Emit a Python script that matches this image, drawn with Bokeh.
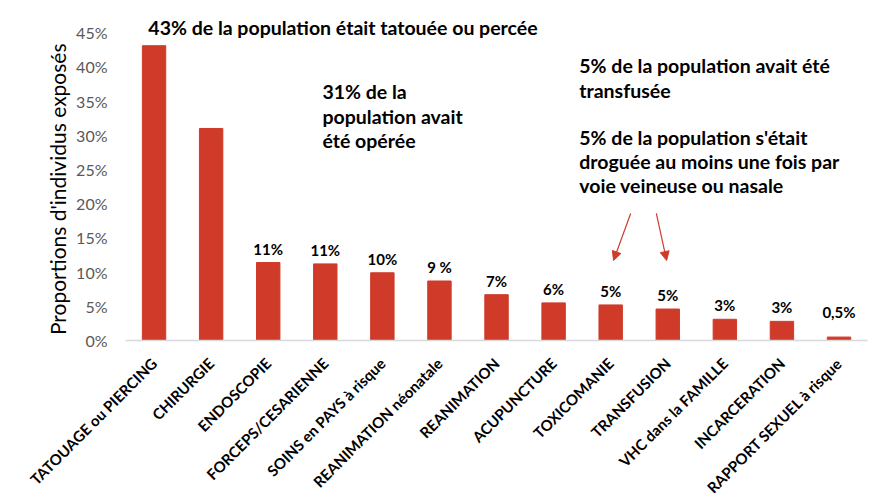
from math import pi
from bokeh.plotting import figure
from bokeh.core.properties import value
from bokeh.models import (ColumnDataSource, Range1d, NumeralTickFormatter,
                          FixedTicker, Label, LabelSet, Arrow, NormalHead)
from bokeh.embed import file_html
from bokeh.resources import INLINE

categories = ["TATOUAGE ou PIERCING", "CHIRURGIE", "ENDOSCOPIE", "FORCEPS/CESARIENNE",
              "SOINS en PAYS à risque", "REANIMATION néonatale", "REANIMATION", "ACUPUNCTURE",
              "TOXICOMANIE", "TRANSFUSION", "VHC dans la FAMILLE", "INCARCERATION",
              "RAPPORT SEXUEL à risque"]
values = [0.431, 0.310, 0.114, 0.112, 0.099, 0.087, 0.067, 0.055, 0.052, 0.046, 0.031, 0.028, 0.005]
value_labels = ["", "", "11%", "11%", "10%", "9 %", "7%", "6%", "5%", "5%", "3%", "3%", "0,5%"]
y_ticks = [0.0, 0.05, 0.10, 0.15, 0.20, 0.25, 0.30, 0.35, 0.40, 0.45]
y_title = "Proportions  d'individus exposés"

note_title = "43% de la population était tatouée ou percée"
note_surgery = ["31% de la", "population avait", "été opérée"]
note_transfusion = ["5% de la population avait été", "transfusée"]
note_drugs = ["5%  de la population s'était", "droguée au moins une fois par",
              "voie veineuse ou nasale"]

FONT = "Lato"
BAR = "#CF3B28"

n = len(categories)
xpos = [i + 0.5 for i in range(n)]
# small values get their label lifted a little more, as in the source chart
lab_offsets = [16 if v < 0.01 else 5 for v in values]

src = ColumnDataSource(dict(x=xpos, val=values, lab=value_labels, off=lab_offsets))

# frame spans the whole page; the axes sit at fixed data locations inside it
p = figure(width=882, height=493,
           x_range=Range1d(-2.19, 13.262), y_range=Range1d(-0.2237, 0.4971),
           output_backend="svg", toolbar_location=None,
           min_border_left=0, min_border_right=0, min_border_top=0, min_border_bottom=0)
p.outline_line_color = None
p.grid.grid_line_color = None
p.background_fill_color = "white"
p.border_fill_color = "white"

p.vbar(x="x", top="val", width=0.41, source=src, fill_color=BAR, line_color=BAR)

p.add_layout(LabelSet(x="x", y="val", text="lab", source=src, y_offset="off",
                      text_align="center", text_baseline="bottom",
                      text_font=value(FONT), text_font_style="bold", text_font_size="15px",
                      text_color="black"))

# y axis
ya = p.yaxis[0]
ya.fixed_location = 0
ya.ticker = FixedTicker(ticks=y_ticks)
ya.formatter = NumeralTickFormatter(format="0%")
ya.axis_line_color = None
ya.major_tick_line_color = None
ya.minor_tick_line_color = None
ya.major_tick_out = 0
ya.major_tick_in = 0
ya.major_label_standoff = 18
ya.major_label_text_font = FONT
ya.major_label_text_font_size = "16px"
ya.major_label_text_color = "#595959"

p.add_layout(Label(x=-1.19, y=0.225, text=y_title, angle=pi / 2, text_align="center",
                   text_baseline="middle", text_font=FONT, text_font_size="21px",
                   text_color="black"))

# x axis
xa = p.xaxis[0]
xa.fixed_location = 0
xa.bounds = (0, n)
xa.ticker = FixedTicker(ticks=xpos)
xa.major_label_overrides = {x: c for x, c in zip(xpos, categories)}
xa.axis_line_color = "#D9D9D9"
xa.axis_line_width = 1.5
xa.major_tick_line_color = None
xa.minor_tick_line_color = None
xa.major_tick_out = 0
xa.major_tick_in = 0
xa.major_label_orientation = pi / 4
xa.major_label_standoff = 20
xa.major_label_text_font = FONT
xa.major_label_text_font_style = "bold"
xa.major_label_text_font_size = "15px"
xa.major_label_text_color = "black"

def note(lines, x, y_top, step=0.0358):
    for i, t in enumerate(lines):
        p.add_layout(Label(x=x, y=y_top - i * step, text=t, text_font=FONT,
                           text_font_style="bold", text_font_size="19.5px",
                           text_color="black", text_baseline="middle", text_align="left"))

note([note_title], 0.40, 0.457)
note(note_surgery, 3.45, 0.364)
note(note_transfusion, 7.95, 0.402)
note(note_drugs, 7.95, 0.297, step=0.0352)

# arrows toward TOXICOMANIE and TRANSFUSION
i_tox = categories.index("TOXICOMANIE")
i_tra = categories.index("TRANSFUSION")
for xs, xe in [(i_tox + 0.85, i_tox + 0.55), (i_tra + 0.30, i_tra + 0.48)]:
    p.add_layout(Arrow(x_start=xs, y_start=0.1857, x_end=xe, y_end=0.117,
                       line_color=BAR, line_width=1.2,
                       end=NormalHead(size=9, fill_color=BAR, line_color=BAR)))

open("out.html", "w").write(file_html(p, INLINE))
